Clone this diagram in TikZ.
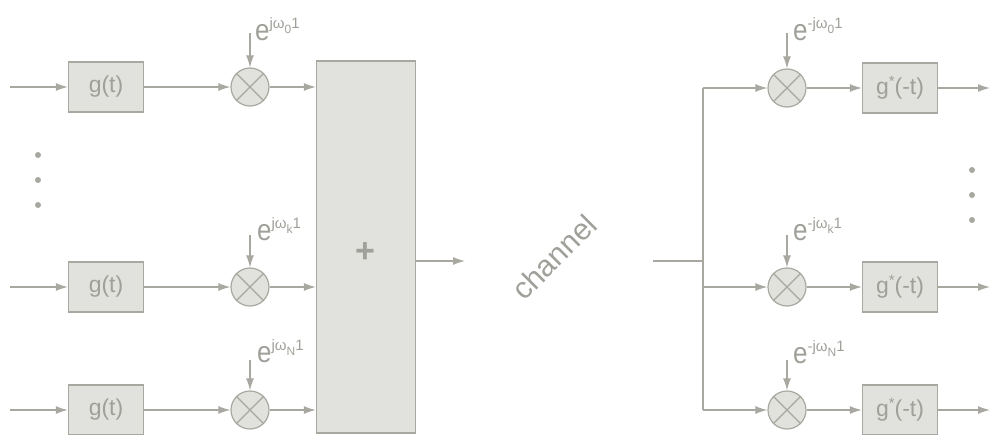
\documentclass[tikz,border=0pt]{standalone}
\usepackage{fontspec}
\setmainfont{Liberation Sans}
\usetikzlibrary{arrows.meta}
\definecolor{lncol}{RGB}{168,168,160}
\definecolor{flcol}{RGB}{225,225,221}
\definecolor{txcol}{RGB}{160,160,154}
\newcommand{\expolbl}[2]{\scalebox{1}[1.15]{\fontsize{26}{26}\selectfont e}\raisebox{12pt}{\fontsize{15}{15}\selectfont #1\raisebox{-5pt}{\fontsize{12}{12}\selectfont #2}1}}
\newcommand{\gstar}{g\raisebox{8pt}{\fontsize{15}{15}\selectfont *}(-t)}
\begin{document}
\begin{tikzpicture}[x=1pt,y=-1pt,
  blk/.style={draw=lncol, fill=flcol, line width=1.3pt, minimum width=75pt, minimum height=50pt, inner sep=0pt, text=txcol, font=\fontsize{23}{23}\selectfont},
  mult/.style={circle, draw=lncol, fill=flcol, line width=1.2pt, minimum size=38pt, inner sep=0pt},
  arr/.style={draw=lncol, line width=1.3pt, -{Latex[length=12pt,width=8pt]}},
  wire/.style={draw=lncol, line width=1.3pt},
  crs/.style={draw=lncol, line width=1.2pt},
  lbl/.style={text=txcol, inner sep=0pt, anchor=base west},
  dot/.style={circle, fill=lncol, inner sep=0pt, minimum size=6pt}
]
\useasboundingbox (0,0) rectangle (990,434);

% left input coordinates
\coordinate (in1) at (10,87);
\coordinate (in2) at (10,287);
\coordinate (in3) at (10,410);

% g(t) blocks
\node[blk] (g1) at (106,87) {g(t)};
\node[blk] (g2) at (106,287) {g(t)};
\node[blk] (g3) at (106,410) {g(t)};

% multipliers
\node[mult] (m1) at (250,87) {};
\node[mult] (m2) at (250,287) {};
\node[mult] (m3) at (250,410) {};
\foreach \m in {m1,m2,m3}{
  \draw[crs] (\m.north west) -- (\m.south east);
  \draw[crs] (\m.north east) -- (\m.south west);
}
\coordinate (t1) at (250,33);
\coordinate (t2) at (250,235);
\coordinate (t3) at (250,360);
\node[lbl] (e1) at (255,40) {\expolbl{jω}{0}};
\node[lbl] (e2) at (257,240) {\expolbl{jω}{k}};
\node[lbl] (e3) at (257,362) {\expolbl{jω}{N}};

% summation block
\node[draw=lncol, fill=flcol, line width=1.3pt, minimum width=99pt, minimum height=372pt, inner sep=0pt] (sum) at (366,247) {};
\node[text=txcol, font=\fontsize{34}{34}\selectfont\bfseries, inner sep=0pt] (plus) at (365,253) {+};

% left dots
\node[dot] (d1) at (38,155) {};
\node[dot] (d2) at (38,180) {};
\node[dot] (d3) at (38,205) {};

% left connections
\draw[arr] (in1) -- (g1.west);
\draw[arr] (in2) -- (g2.west);
\draw[arr] (in3) -- (g3.west);
\draw[arr] (g1.east) -- (m1.west);
\draw[arr] (g2.east) -- (m2.west);
\draw[arr] (g3.east) -- (m3.west);
\draw[arr] (m1.east) -- (m1.east -| sum.west);
\draw[arr] (m2.east) -- (m2.east -| sum.west);
\draw[arr] (m3.east) -- (m3.east -| sum.west);
\draw[arr] (t1) -- (m1.north);
\draw[arr] (t2) -- (m2.north);
\draw[arr] (t3) -- (m3.north);

% channel
\coordinate (sumout) at (465,261);
\draw[arr] (sumout -| sum.east) -- (sumout);
\node[text=txcol, rotate=45, font=\fontsize{30}{30}\selectfont, inner sep=0pt] (chan) at (554,257) {channel};

% right side
\coordinate (cin) at (653,261);
\coordinate (bus) at (703,261);
\coordinate (bus1) at (703,88);
\coordinate (bus2) at (703,287);
\coordinate (bus3) at (703,410);
\draw[wire] (cin) -- (bus);
\draw[wire] (bus1) -- (bus3);

\node[mult] (r1) at (787,88) {};
\node[mult] (r2) at (787,287) {};
\node[mult] (r3) at (787,410) {};
\foreach \m in {r1,r2,r3}{
  \draw[crs] (\m.north west) -- (\m.south east);
  \draw[crs] (\m.north east) -- (\m.south west);
}
\coordinate (u1) at (787,33);
\coordinate (u2) at (787,235);
\coordinate (u3) at (787,360);
\node[lbl] (f1) at (793,40) {\expolbl{-jω}{0}};
\node[lbl] (f2) at (793,240) {\expolbl{-jω}{k}};
\node[lbl] (f3) at (793,363) {\expolbl{-jω}{N}};

\node[blk] (h1) at (900,88) {\gstar};
\node[blk] (h2) at (900,287) {\gstar};
\node[blk] (h3) at (900,410) {\gstar};

\coordinate (o1) at (990,88);
\coordinate (o2) at (990,287);
\coordinate (o3) at (990,410);

\draw[arr] (bus1) -- (r1.west);
\draw[arr] (bus2) -- (r2.west);
\draw[arr] (bus3) -- (r3.west);
\draw[arr] (u1) -- (r1.north);
\draw[arr] (u2) -- (r2.north);
\draw[arr] (u3) -- (r3.north);
\draw[arr] (r1.east) -- (h1.west);
\draw[arr] (r2.east) -- (h2.west);
\draw[arr] (r3.east) -- (h3.west);
\draw[arr] (h1.east) -- (o1);
\draw[arr] (h2.east) -- (o2);
\draw[arr] (h3.east) -- (o3);

% right dots
\node[dot] (rd1) at (972,170) {};
\node[dot] (rd2) at (972,195) {};
\node[dot] (rd3) at (972,220) {};
\end{tikzpicture}
\end{document}
